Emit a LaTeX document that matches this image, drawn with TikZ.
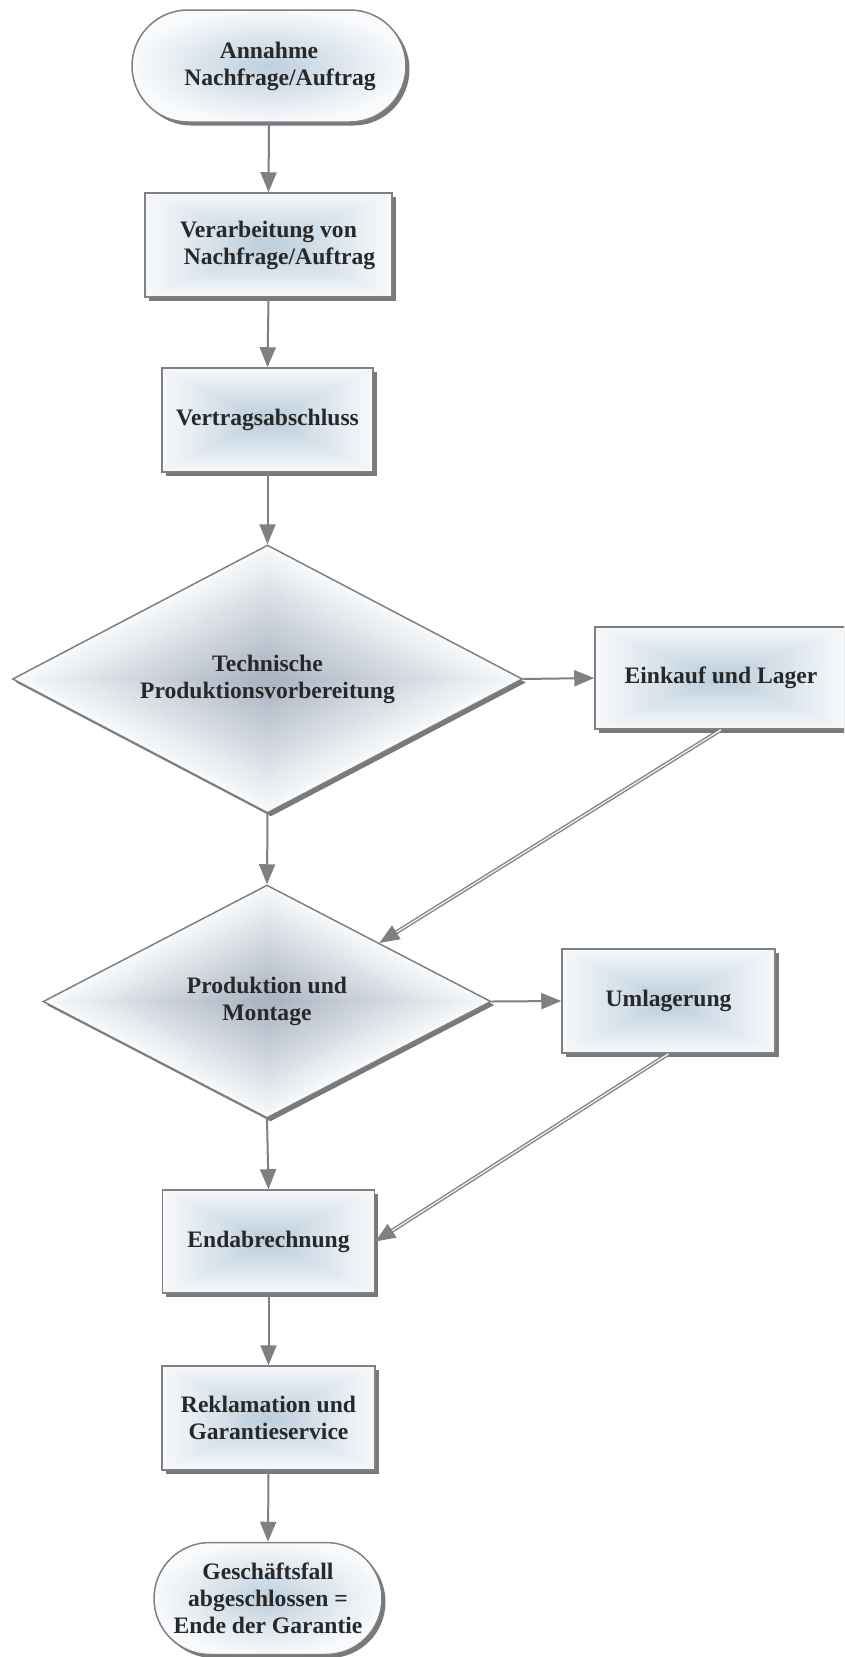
\documentclass[tikz,border=0pt]{standalone}
\usepackage{fontspec}
\setmainfont{Liberation Serif}
\usetikzlibrary{shapes.geometric,arrows.meta,shadows,calc}
\definecolor{rectc}{RGB}{190,207,221}
\definecolor{diac}{RGB}{172,182,195}
\definecolor{linec}{RGB}{128,128,128}
\definecolor{txt}{RGB}{40,40,40}
\definecolor{edgec}{RGB}{248,250,252}
\tikzset{
  base/.style={draw=linec, line width=1.5pt, inner sep=0pt,
    font=\fontsize{23.6}{27}\selectfont\bfseries, text=txt, align=center,
    drop shadow={shadow xshift=3.5pt, shadow yshift=-3.5pt, fill=black!70, opacity=0.75}},
  rectgrad/.style={path picture={
    \foreach \k in {0,...,22}{
      \pgfmathsetmacro\ff{\k*0.021}
      \pgfmathsetmacro\pc{min(100,4+96*(\k/22))}
      \fill[rectc!\pc!edgec]
        ($(path picture bounding box.south west)!\ff!(path picture bounding box.north east)$)
        rectangle
        ($(path picture bounding box.north east)!\ff!(path picture bounding box.south west)$);
    }}},
  diagrad/.style={path picture={
    \foreach \k in {0,...,22}{
      \pgfmathsetmacro\ss{1-\k*0.042}
      \pgfmathsetmacro\pc{min(100,2+98*(\k/22))}
      \fill[diac!\pc!edgec]
        ($(path picture bounding box.center)!\ss!(path picture bounding box.north)$) --
        ($(path picture bounding box.center)!\ss!(path picture bounding box.east)$) --
        ($(path picture bounding box.center)!\ss!(path picture bounding box.south)$) --
        ($(path picture bounding box.center)!\ss!(path picture bounding box.west)$) -- cycle;
    }}},
  proc/.style={base, rectangle, rectgrad},
  decis/.style={base, diamond, aspect=1.9, diagrad},
  term/.style={base, rectangle, rounded corners=56pt, inner color=rectc, outer color=edgec},
  conn/.style={draw=linec, line width=2pt, -{Triangle[length=20pt,width=16pt]}},
  dconn/.style={draw=linec, line width=1.3pt, double=white!85!linec, double distance=1.4pt,
    -{Triangle[length=20pt,width=16pt]}},
}
\begin{document}
\begin{tikzpicture}[x=1pt,y=-1pt]
\path[use as bounding box] (0,0) rectangle (844,1657);
\clip (0,0) rectangle (844,1657);
\node[term, minimum width=274pt, minimum height=112pt] (t1) at (269,66)
  {Annahme\\\hspace*{22pt}Nachfrage/Auftrag};
\node[proc, minimum width=247pt, minimum height=104pt] (b2) at (268.5,245)
  {Verarbeitung von\\\hspace*{22pt}Nachfrage/Auftrag};
\node[proc, minimum width=211pt, minimum height=104pt] (b3) at (267.5,420)
  {Vertragsabschluss};
\node[decis, minimum width=510pt, minimum height=268pt] (d1) at (267.5,679)
  {Technische\\Produktionsvorbereitung};
\node[proc, minimum width=252pt, minimum height=102pt] (e) at (721,678)
  {Einkauf und Lager};
\node[decis, minimum width=448pt, minimum height=233pt] (d2) at (267,1001.5)
  {Produktion und\\Montage};
\node[proc, minimum width=213pt, minimum height=104pt] (u) at (668.5,1001)
  {Umlagerung};
\node[proc, minimum width=212pt, minimum height=103pt] (b4) at (268.5,1241.5)
  {Endabrechnung};
\node[proc, minimum width=213pt, minimum height=104pt] (b5) at (268.5,1418)
  {Reklamation und\\Garantieservice};
\node[term, minimum width=228pt, minimum height=112pt] (t2) at (268,1598.5)
  {Geschäftsfall\\abgeschlossen =\\Ende der Garantie};
\draw[conn] (t1.south) -- (b2.north);
\draw[conn] (b2.south) -- (b3.north);
\draw[conn] (b3.south) -- (d1.north);
\draw[conn] (d1.east) -- (e.west);
\draw[conn] (d1.south) -- (d2.north);
\draw[dconn] (e.south) -- (d2.north east);
\draw[conn] (d2.east) -- (u.west);
\draw[conn] (d2.south) -- (b4.north);
\draw[dconn] (u.south) -- (b4.east);
\draw[conn] (b4.south) -- (b5.north);
\draw[conn] (b5.south) -- (t2.north);
\end{tikzpicture}
\end{document}
